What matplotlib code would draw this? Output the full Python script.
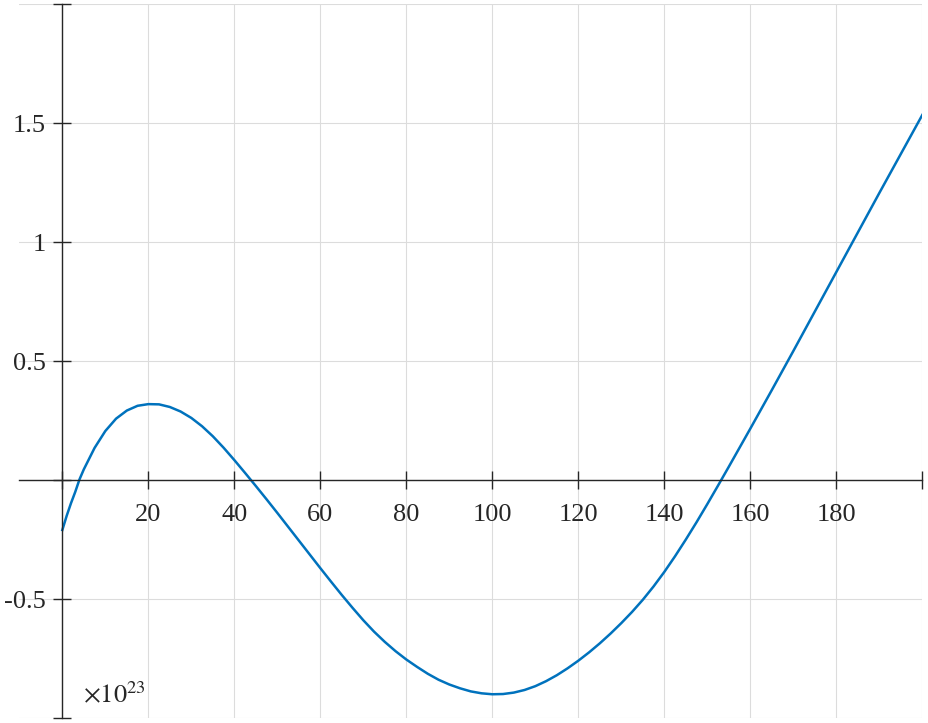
import matplotlib.pyplot as plt

# valores (eixo y em unidades de 1e23)
x_vals = [0, 1, 2, 3, 4, 5, 7.5, 10, 12.5, 15, 17.5, 20, 22.5, 25, 27.5, 30, 32.5,
          35, 37.5, 40, 42.5, 45, 47.5, 50, 52.5, 55, 57.5, 60, 62.5, 65, 67.5,
          70, 72.5, 75, 77.5, 80, 82.5, 85, 87.5, 90, 92.5, 95, 97.5, 100, 102.5,
          105, 107.5, 110, 112.5, 115, 117.5, 120, 122.5, 125, 127.5, 130, 132.5,
          135, 137.5, 140, 142.5, 145, 147.5, 150, 152.5, 155, 157.5, 160, 162.5,
          165, 167.5, 170, 172.5, 175, 177.5, 180, 182.5, 185, 187.5, 190, 192.5,
          195, 197.5, 200]
y_vals = [-0.209, -0.150, -0.097, -0.049, 0.004, 0.046, 0.136, 0.207, 0.259,
          0.293, 0.313, 0.320, 0.319, 0.308, 0.289, 0.262, 0.227, 0.185, 0.137,
          0.085, 0.031, -0.024, -0.080, -0.137, -0.195, -0.253, -0.311, -0.369,
          -0.426, -0.482, -0.536, -0.588, -0.636, -0.679, -0.718, -0.753, -0.784,
          -0.813, -0.838, -0.858, -0.874, -0.887, -0.895, -0.899, -0.898, -0.892,
          -0.881, -0.865, -0.844, -0.819, -0.790, -0.758, -0.723, -0.685, -0.644,
          -0.600, -0.553, -0.502, -0.446, -0.385, -0.319, -0.249, -0.176, -0.100,
          -0.022, 0.057, 0.137, 0.217, 0.298, 0.379, 0.461, 0.543, 0.626, 0.709,
          0.792, 0.875, 0.958, 1.041, 1.124, 1.207, 1.289, 1.371, 1.453, 1.535]

x_ticks = list(range(0, 201, 20))
x_labels = ["", "20", "40", "60", "80", "100", "120", "140", "160", "180", ""]
y_ticks = [-1, -0.5, 0, 0.5, 1, 1.5, 2]
y_labels = ["", "-0.5", "", "0.5", "1", "1.5", ""]

plt.rcParams['font.family'] = ['Liberation Serif', 'DejaVu Serif']
plt.rcParams['mathtext.fontset'] = 'stix'

fig = plt.figure(figsize=(9.29, 7.23), dpi=100)
ax = fig.add_axes([0.0208, 0.0065, 0.972, 0.9876])

ax.plot(x_vals, y_vals, color='#0072BD', linewidth=1.8)

ax.set_xlim(-10, 200)
ax.set_ylim(-1, 2)

# eixos passando pela origem
ax.spines['left'].set_position(('data', 0))
ax.spines['bottom'].set_position(('data', 0))
ax.spines['right'].set_visible(False)
ax.spines['top'].set_visible(False)
for s in ['left', 'bottom']:
    ax.spines[s].set_color('#262626')
    ax.spines[s].set_linewidth(1.0)

ax.set_xticks(x_ticks)
ax.set_xticklabels(x_labels)
ax.set_yticks(y_ticks)
ax.set_yticklabels(y_labels)
ax.tick_params(direction='inout', length=13.5, width=1.0, color='#262626',
               labelsize=19, labelcolor='#262626')
ax.tick_params(axis='x', pad=10)
ax.tick_params(axis='y', pad=5)

ax.grid(True, color='#DCDCDC', linewidth=0.8)
ax.set_axisbelow(True)

ax.text(4.8, -0.935, r'$\times 10^{23}$', fontsize=19, color='#262626')

fig.savefig('out.png', dpi=100)
